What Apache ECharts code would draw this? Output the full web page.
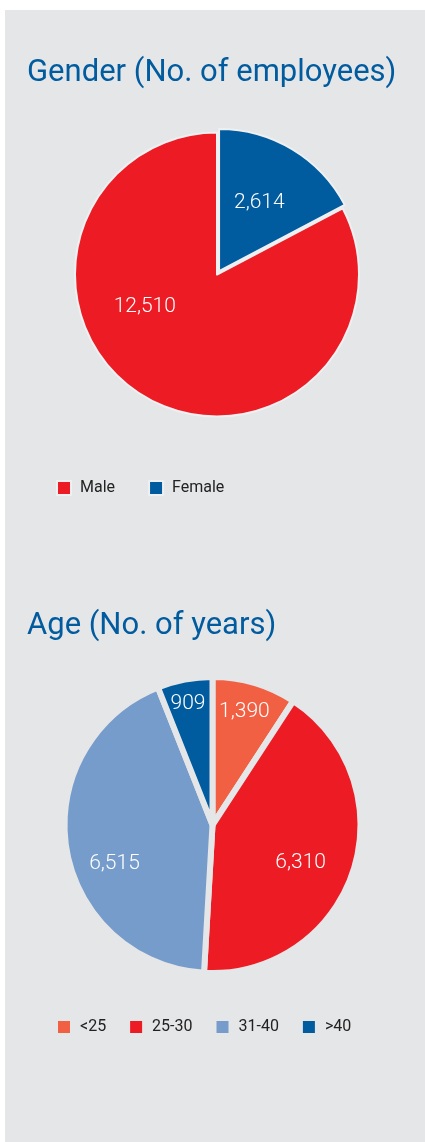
<!DOCTYPE html>
<html>
<head>
<meta charset="utf-8">
<script src="https://cdn.jsdelivr.net/npm/echarts@6/dist/echarts.min.js"></script>
<style>
  html, body { margin: 0; padding: 0; background: #ffffff; }
  #chart { position: absolute; left: 5px; top: 10px; width: 420px; height: 1132px; background: #e5e6e8; }
</style>
</head>
<body>
<div id="chart"></div>
<script>
// gender split
const genderNames = ['Male', 'Female']
const genderValues = [12510, 2614]
// age split
const ageNames = ['<25', '25-30', '31-40', '>40']
const ageValues = [1390, 6310, 6515, 909]

const genderColors = ['#ed1c24', '#005b9f']
const ageColors = ['#f26044', '#ed1c24', '#769ccb', '#005b9f']
// nudges so the numbers sit where the original has them
const genderLabelShift = [[-34, -31], [2, -5]]
const ageLabelShift = [[10, -39], [15, 14], [-22, 26], [-10, -46]]

const fontFamily = 'Roboto, "Open Sans", sans-serif'
const bg = '#e5e6e8'
const fmt = v => v.toLocaleString('en-US')

const chart = echarts.init(document.getElementById('chart'))

const labelStyle = {
  show: true,
  position: 'inside',
  color: '#ffffff',
  fontSize: 21,
  fontWeight: 300,
  fontFamily,
  formatter: p => fmt(p.value)
}

const titleStyle = { color: '#005b9f', fontSize: 31, fontWeight: 'normal', fontFamily }
const legendBase = {
  icon: 'rect',
  itemWidth: 14,
  itemHeight: 14,
  selectedMode: false,
  textStyle: { color: '#222222', fontSize: 16, fontFamily, padding: [0, 0, 0, 4] }
}

const option = {
  animation: false,
  title: [
    { text: 'Gender (No. of employees)', left: 17, top: 43, textStyle: titleStyle },
    { text: 'Age (No. of years)', left: 17, top: 596, textStyle: titleStyle }
  ],
  legend: [
    Object.assign({ data: genderNames, left: 46, top: 465, itemGap: 33 }, legendBase),
    Object.assign({ data: ageNames, left: 46, top: 1004, itemGap: 22 }, legendBase)
  ],
  series: [
    {
      type: 'pie',
      center: [212, 264.5],
      radius: [0, 142],
      startAngle: 90,
      clockwise: false,
      avoidLabelOverlap: false,
      selectedMode: 'multiple',
      selectedOffset: 4,
      emphasis: { disabled: true },
      label: labelStyle,
      labelLine: { show: false },
      itemStyle: { borderColor: '#eef0f2', borderWidth: 2 },
      data: genderNames.map((n, i) => ({
        name: n,
        value: genderValues[i],
        selected: n === 'Female',
        itemStyle: { color: genderColors[i] },
        label: { offset: genderLabelShift[i] },
        select: { label: { offset: genderLabelShift[i] } }
      }))
    },
    {
      type: 'pie',
      center: [207.5, 815],
      radius: [0, 148],
      startAngle: 90,
      clockwise: true,
      avoidLabelOverlap: false,
      emphasis: { disabled: true },
      label: labelStyle,
      labelLine: { show: false },
      itemStyle: { borderColor: bg, borderWidth: 6 },
      data: ageNames.map((n, i) => ({
        name: n,
        value: ageValues[i],
        itemStyle: { color: ageColors[i] },
        label: { offset: ageLabelShift[i] }
      }))
    }
  ]
}

chart.setOption(option)
</script>
</body>
</html>
